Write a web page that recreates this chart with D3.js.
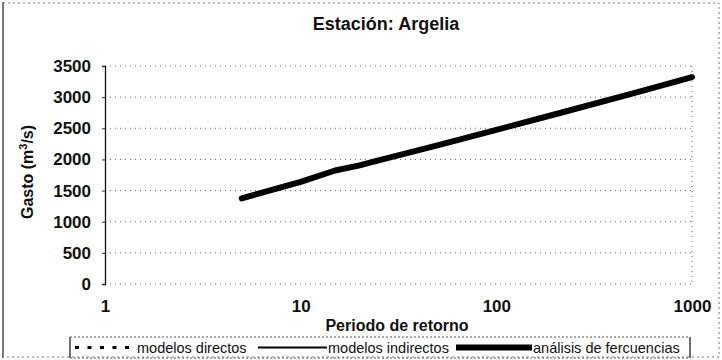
<!DOCTYPE html>
<html>
<head>
<meta charset="utf-8">
<script src="https://cdn.jsdelivr.net/npm/d3@7"></script>
<style>
  html, body { margin: 0; padding: 0; background: #fff; }
  svg { display: block; font-family: "Liberation Sans", Arial, sans-serif; }
</style>
</head>
<body>
<svg id="chart" width="722" height="360"></svg>
<script>
// Return periods (years) and discharges (m³/s) from the frequency analysis
const periods   = [5, 10, 15, 20, 25, 50, 100, 200, 500, 1000];
const discharge = [1375, 1640, 1822, 1905, 1985, 2225, 2475, 2725, 3060, 3320];

const xTicks = [1, 10, 100, 1000];
const yTicks = [0, 500, 1000, 1500, 2000, 2500, 3000, 3500];

const legendLabels = ["modelos directos", "modelos indirectos", "análisis de fercuencias"];

const svg = d3.select("#chart");

const x = d3.scaleLog().domain([1, 1000]).range([105, 692]);
const y = d3.scaleLinear().domain([0, 3500]).range([284, 66]);

// outer chart frame
svg.append("line").attr("x1", 3).attr("x2", 3).attr("y1", 2).attr("y2", 358)
  .attr("stroke", "#222").attr("stroke-width", 1.2);
svg.append("path")
  .attr("d", "M3,3 H719 V357 H3")
  .attr("fill", "none").attr("stroke", "#777").attr("stroke-width", 1)
  .attr("stroke-dasharray", "2,3");

// horizontal grid lines
svg.append("g").selectAll("line").data(yTicks).join("line")
  .attr("x1", x(1)).attr("x2", x(1000))
  .attr("y1", d => y(d)).attr("y2", d => y(d))
  .attr("stroke", "#666").attr("stroke-width", 1)
  .attr("stroke-dasharray", "1,4");

// right edge of the plot area
svg.append("line")
  .attr("x1", x(1000)).attr("x2", x(1000)).attr("y1", y(3500)).attr("y2", y(0))
  .attr("stroke", "#666").attr("stroke-dasharray", "1,4");

// y axis
const yAxis = svg.append("g")
  .attr("transform", `translate(${x(1)},0)`)
  .call(d3.axisLeft(y).tickValues(yTicks).tickFormat(d3.format("d")).tickSize(3).tickPadding(11));
yAxis.select(".domain").attr("stroke", "#111").attr("stroke-width", 1.3);
yAxis.selectAll(".tick line").attr("stroke", "#333");
yAxis.selectAll(".tick text")
  .attr("font-size", 17).attr("font-weight", "bold").attr("fill", "#111")
  .attr("font-family", "'Liberation Sans', Arial, sans-serif");

// x axis
const xAxis = svg.append("g")
  .attr("transform", `translate(0,${y(0)})`)
  .call(d3.axisBottom(x).tickValues(xTicks).tickFormat(d3.format("d")).tickSize(0).tickPadding(16));
xAxis.select(".domain").remove();
xAxis.selectAll(".tick text")
  .attr("font-size", 17).attr("font-weight", "bold").attr("fill", "#111")
  .attr("font-family", "'Liberation Sans', Arial, sans-serif");

// frequency-analysis curve
const line = d3.line()
  .x((d, i) => x(periods[i]))
  .y(d => y(d));
svg.append("path")
  .datum(discharge)
  .attr("d", line)
  .attr("fill", "none")
  .attr("stroke", "#000")
  .attr("stroke-width", 6)
  .attr("stroke-linecap", "round")
  .attr("stroke-linejoin", "round");

// titles
svg.append("text")
  .attr("x", 386).attr("y", 30)
  .attr("text-anchor", "middle")
  .attr("font-size", 18).attr("font-weight", "bold").attr("fill", "#111")
  .text("Estación: Argelia");

svg.append("text")
  .attr("x", 397).attr("y", 331)
  .attr("text-anchor", "middle")
  .attr("font-size", 16).attr("font-weight", "bold").attr("fill", "#111")
  .text("Periodo de retorno");

const yTitle = svg.append("text")
  .attr("transform", "translate(33,172) rotate(-90)")
  .attr("text-anchor", "middle")
  .attr("font-size", 16).attr("font-weight", "bold").attr("fill", "#111");
yTitle.append("tspan").text("Gasto (m");
yTitle.append("tspan").attr("font-size", 11).attr("dy", -6).text("3");
yTitle.append("tspan").attr("dy", 6).text("/s)");

// legend box: solid sides, dotted top and bottom
const lg = svg.append("g");
lg.append("path")
  .attr("d", "M70,337 V358 M690,337 V358")
  .attr("fill", "none").attr("stroke", "#222").attr("stroke-width", 1.3);
lg.append("path")
  .attr("d", "M70,337 H690 M70,358 H690")
  .attr("fill", "none").attr("stroke", "#555").attr("stroke-width", 1)
  .attr("stroke-dasharray", "2,2");

const items = [
  { x1: 75, x2: 134, w: 3, dash: "4,8.5", label: legendLabels[0], tx: 137 },
  { x1: 258, x2: 327, w: 2, dash: null, label: legendLabels[1], tx: 328 },
  { x1: 456, x2: 532, w: 6, dash: null, label: legendLabels[2], tx: 533 }
];
items.forEach(it => {
  const l = lg.append("line")
    .attr("x1", it.x1).attr("x2", it.x2).attr("y1", 347.5).attr("y2", 347.5)
    .attr("stroke", "#000").attr("stroke-width", it.w);
  if (it.dash) l.attr("stroke-dasharray", it.dash);
  lg.append("text")
    .attr("x", it.tx).attr("y", 353)
    .attr("font-size", 14.5).attr("fill", "#111")
    .text(it.label);
});
</script>
</body>
</html>
